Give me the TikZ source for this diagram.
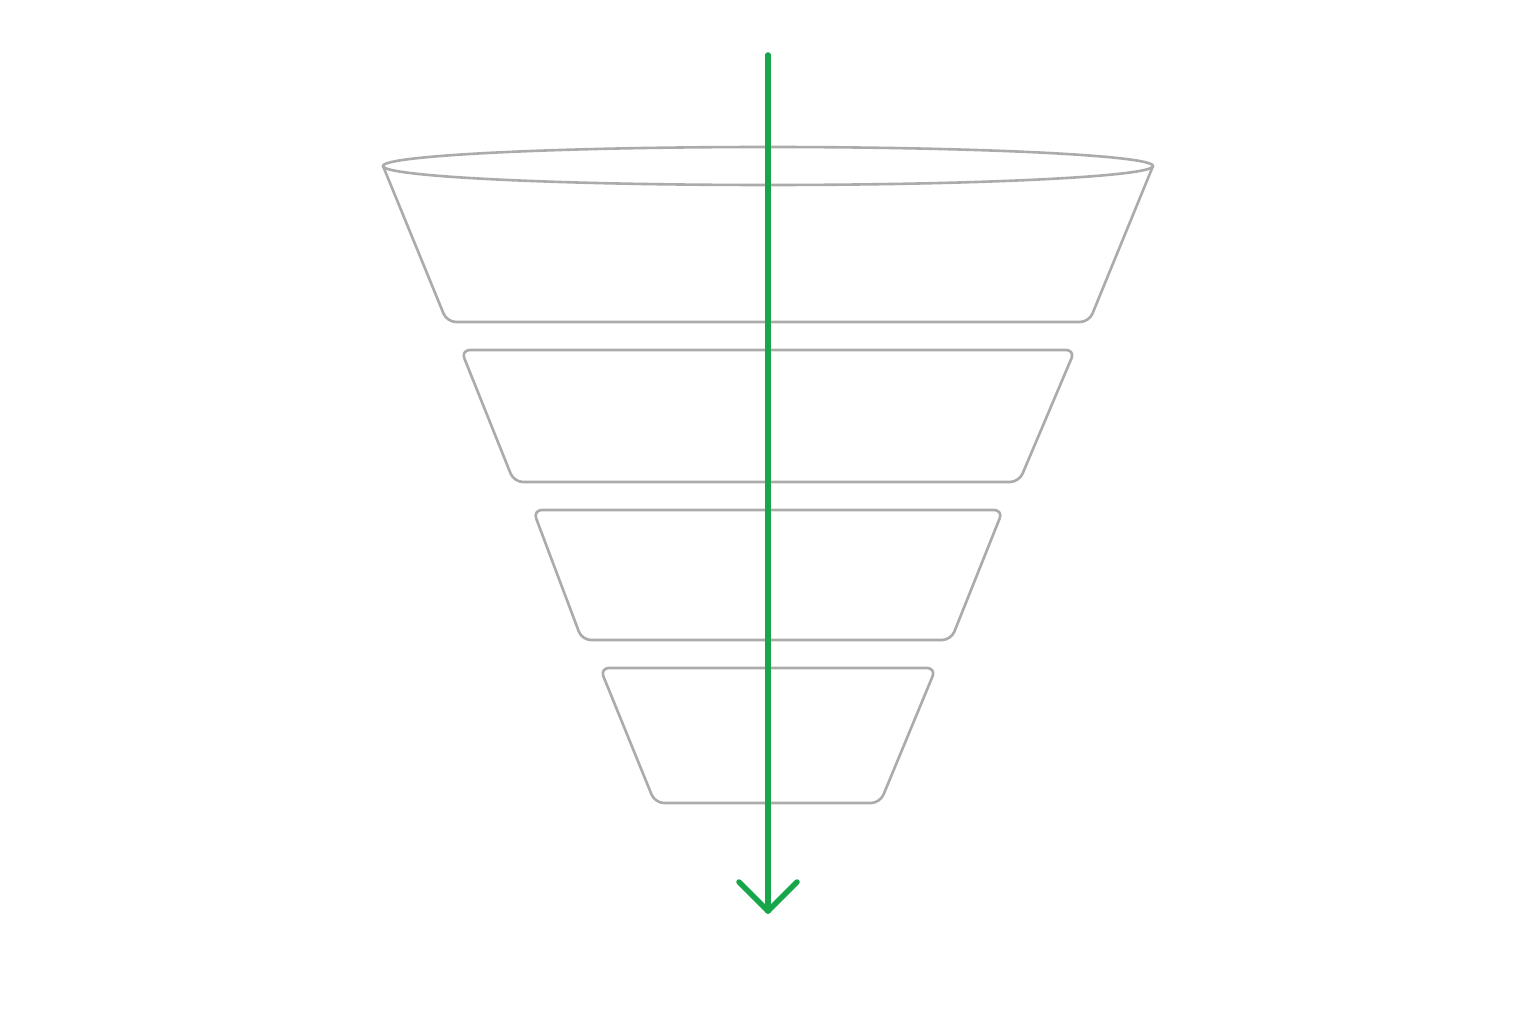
\documentclass[tikz,border=0pt]{standalone}
\begin{document}
\begin{tikzpicture}[x=1pt,y=-1pt,
  tier/.style={draw=black!33, line width=2.6pt, rounded corners=9pt, line join=round},
  flow/.style={draw=green!60!black!85!cyan, line width=5.5pt, line cap=round, line join=round}]
\useasboundingbox[fill=white] (0,0) rectangle (1536,1024);
\definecolor{flowgreen}{HTML}{17A64A}
% top tier with ellipse rim
\draw[tier] (383,166) -- (447,322) -- (1089,322) -- (1153,166);
\draw[draw=black!33, line width=2.6pt] (768,166) ellipse [x radius=385, y radius=19];
% tier 2
\draw[tier] (461,350) -- (1075,350) -- (1019,482) -- (514,482) -- cycle;
% tier 3
\draw[tier] (533,510) -- (1003,510) -- (951,640) -- (582,640) -- cycle;
% tier 4
\draw[tier] (600,668) -- (936,668) -- (880,803) -- (655,803) -- cycle;
% arrow
\coordinate (top) at (768,55);
\coordinate (tip) at (768,911);
\coordinate (hl) at (739,882);
\coordinate (hr) at (797,882);
\draw[flow, draw=flowgreen] (top) -- (tip);
\draw[flow, draw=flowgreen] (hl) -- (tip) -- (hr);
\end{tikzpicture}
\end{document}
